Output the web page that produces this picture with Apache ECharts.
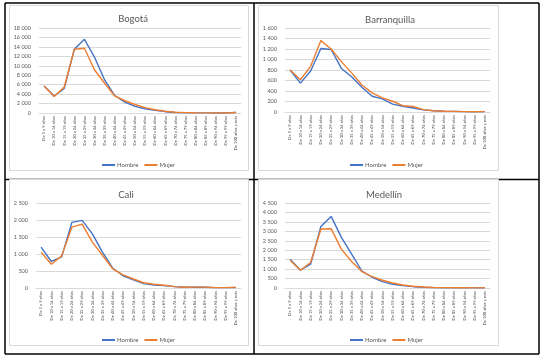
<!DOCTYPE html>
<html>
<head>
<meta charset="utf-8">
<script src="https://cdn.jsdelivr.net/npm/echarts@6/dist/echarts.min.js"></script>
<style>
  html, body { margin: 0; padding: 0; background: #fff; }
  #chart { width: 541px; height: 358px; }
</style>
</head>
<body>
<div id="chart"></div>
<script>
// grupos de edad
const categories = [
  'De 5 a 9 años', 'De 10 a 14 años', 'De 15 a 19 años', 'De 20 a 24 años',
  'De 25 a 29 años', 'De 30 a 34 años', 'De 35 a 39 años', 'De 40 a 44 años',
  'De 45 a 49 años', 'De 50 a 54 años', 'De 55 a 59 años', 'De 60 a 64 años',
  'De 65 a 69 años', 'De 70 a 74 años', 'De 75 a 79 años', 'De 80 a 84 años',
  'De 85 a 89 años', 'De 90 a 94 años', 'De 95 a 99 años', 'De 100 años y más'
];
const seriesNames = ['Hombre', 'Mujer'];

const bogotaHombre = [5700, 3600, 5200, 13500, 15600, 11800, 7000, 3700, 2300, 1400, 900, 560, 280, 120, 60, 30, 20, 10, 10, 100];
const bogotaMujer = [5700, 3500, 5500, 13500, 13700, 9100, 6300, 3600, 2600, 1800, 1150, 700, 380, 150, 70, 40, 20, 10, 10, 100];

const barranquillaHombre = [800, 550, 780, 1210, 1190, 830, 670, 470, 300, 250, 150, 110, 75, 40, 25, 15, 12, 8, 5, 8];
const barranquillaMujer = [800, 615, 870, 1360, 1200, 960, 745, 515, 365, 270, 205, 120, 105, 45, 25, 15, 12, 8, 5, 8];

const caliHombre = [1200, 780, 915, 1930, 1990, 1590, 1050, 580, 360, 240, 130, 90, 70, 40, 20, 20, 20, 10, 10, 10];
const caliMujer = [1050, 700, 945, 1790, 1880, 1350, 955, 560, 385, 265, 155, 110, 80, 40, 20, 25, 25, 10, 10, 25];

const medellinHombre = [1525, 940, 1260, 3260, 3790, 2680, 1790, 900, 570, 340, 195, 125, 70, 40, 20, 15, 10, 10, 5, 10];
const medellinMujer = [1470, 940, 1350, 3120, 3140, 2060, 1400, 870, 600, 410, 265, 160, 90, 50, 30, 20, 10, 10, 5, 10];

// max / intervalo del eje y
const yMax = [18000, 1600, 2500, 4500];
const yStep = [2000, 200, 500, 500];

const panels = [
  { title: 'Bogotá', hombre: bogotaHombre, mujer: bogotaMujer,
    grid: { left: 39, top: 28, width: 202, height: 85 }, titleX: 128, titleY: 9, legendX: 97, legendY: 157 },
  { title: 'Barranquilla', hombre: barranquillaHombre, mujer: barranquillaMujer,
    grid: { left: 285, top: 28, width: 205, height: 84 }, titleX: 385, titleY: 10, legendX: 345, legendY: 157 },
  { title: 'Cali', hombre: caliHombre, mujer: caliMujer,
    grid: { left: 36, top: 203, width: 205, height: 85 }, titleX: 121, titleY: 185, legendX: 97, legendY: 332 },
  { title: 'Medellín', hombre: medellinHombre, mujer: medellinMujer,
    grid: { left: 285, top: 203, width: 205, height: 85 }, titleX: 379, titleY: 185, legendX: 345, legendY: 332 }
];

const FONT = 'Lato, "Open Sans", sans-serif';
const textColor = '#595959';
const fmt = v => String(v).replace(/\B(?=(\d{3})+(?!\d))/g, ' ');

const chart = echarts.init(document.getElementById('chart'));

const option = {
  backgroundColor: '#fff',
  animation: false,
  title: [],
  legend: [],
  grid: [],
  xAxis: [],
  yAxis: [],
  series: [],
  graphic: []
};

// lineas de la tabla
const tableLines = [
  [5, 3, 539, 3], [5, 179.5, 539, 179.5], [5, 354, 539, 354],
  [5, 3, 5, 354], [254, 3, 254, 354], [539, 3, 539, 354]
];
tableLines.forEach(l => {
  option.graphic.push({
    type: 'line', z: -20, silent: true,
    shape: { x1: l[0], y1: l[1], x2: l[2], y2: l[3] },
    style: { stroke: '#000', lineWidth: 1.5 }
  });
});

// marcos de cada grafico
const boxes = [[9.5, 5.5, 239, 165], [258.5, 5.5, 240, 165], [9.5, 179.5, 239, 166], [258.5, 179.5, 240, 166]];
boxes.forEach(b => {
  option.graphic.push({
    type: 'rect', z: -10, silent: true,
    shape: { x: b[0], y: b[1], width: b[2], height: b[3] },
    style: { fill: '#fff', stroke: '#d9d9d9', lineWidth: 1 }
  });
});

panels.forEach((p, i) => {
  option.title.push({
    text: p.title, left: p.titleX, top: p.titleY, textAlign: 'center',
    textStyle: { fontFamily: FONT, fontSize: 9.5, fontWeight: 'normal', color: textColor }
  });
  option.legend.push({
    data: seriesNames.map(n => ({ name: n })),
    left: p.legendX, top: p.legendY,
    itemWidth: 13, itemHeight: 2, itemGap: 6, icon: 'rect',
    textStyle: { fontFamily: FONT, fontSize: 6, color: textColor, padding: [0, 0, 0, -3] },
    selectedMode: false
  });
  option.grid.push(Object.assign({ containLabel: false }, p.grid));
  option.xAxis.push({
    type: 'category', gridIndex: i, data: categories, boundaryGap: true,
    axisLine: { lineStyle: { color: '#d9d9d9' } },
    axisTick: { show: false },
    axisLabel: { interval: 0, rotate: 90, margin: 3, fontSize: 4.1, fontFamily: FONT, color: '#404040' }
  });
  option.yAxis.push({
    type: 'value', gridIndex: i, min: 0, max: yMax[i], interval: yStep[i],
    axisLine: { show: false }, axisTick: { show: false },
    splitLine: { lineStyle: { color: '#d9d9d9', width: 1 } },
    axisLabel: { fontSize: 5.5, margin: 8, fontFamily: FONT, color: textColor, formatter: fmt }
  });
  option.series.push({
    name: 'Hombre', type: 'line', xAxisIndex: i, yAxisIndex: i,
    data: p.hombre, showSymbol: false, symbol: 'none',
    lineStyle: { color: '#4472C4', width: 1.4 }, itemStyle: { color: '#4472C4' }
  });
  option.series.push({
    name: 'Mujer', type: 'line', xAxisIndex: i, yAxisIndex: i,
    data: p.mujer, showSymbol: false, symbol: 'none',
    lineStyle: { color: '#ED7D31', width: 1.4 }, itemStyle: { color: '#ED7D31' }
  });
});

chart.setOption(option);
</script>
</body>
</html>
